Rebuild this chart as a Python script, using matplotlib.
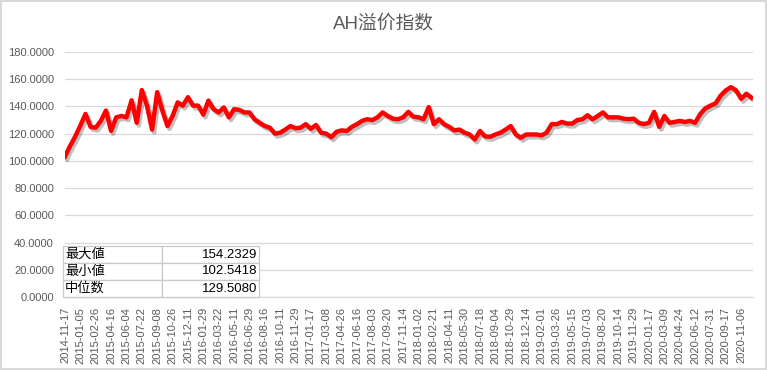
# ================================================================
# 0. Section: IMPORTS
# ================================================================
import numpy as np
from matplotlib import pyplot as plt
from matplotlib import patheffects as pe


# ================================================================
# 1. Section: INPUTS
# ================================================================
TITLE: str = "AH溢价指数"

# tick labels on the category axis (one every ~34 trading days)
DATE_LABELS: list = [
    "2014-11-17", "2015-01-05", "2015-02-26", "2015-04-16", "2015-06-04",
    "2015-07-22", "2015-09-08", "2015-10-26", "2015-12-11", "2016-01-29",
    "2016-03-22", "2016-05-11", "2016-06-29", "2016-08-16", "2016-10-11",
    "2016-11-29", "2017-01-17", "2017-03-08", "2017-04-26", "2017-06-16",
    "2017-08-03", "2017-09-20", "2017-11-14", "2018-01-02", "2018-02-21",
    "2018-04-11", "2018-05-30", "2018-07-18", "2018-09-04", "2018-10-29",
    "2018-12-14", "2019-02-01", "2019-03-26", "2019-05-15", "2019-07-03",
    "2019-08-20", "2019-10-14", "2019-11-29", "2020-01-17", "2020-03-09",
    "2020-04-24", "2020-06-12", "2020-07-31", "2020-09-17", "2020-11-06",
]

# index values, 3 readings per tick interval
SAMPLES_PER_LABEL: int = 3
AH_INDEX: list = [
    103.2, 111.0, 118.0, 126.0, 134.5, 125.0, 124.4, 129.4, 137.0, 122.0,
    132.0, 133.0, 132.0, 144.5, 128.0, 152.0, 140.6, 123.0, 150.5, 137.0,
    125.6, 133.0, 143.0, 140.6, 146.8, 140.6, 140.6, 134.0, 144.3, 138.0,
    135.6, 139.3, 132.0, 138.0, 137.5, 135.6, 135.6, 130.6, 128.0, 125.6,
    124.4, 120.0, 120.7, 123.0, 125.6, 124.0, 124.4, 127.0, 123.6, 126.4,
    120.7, 120.0, 117.4, 121.4, 122.4, 122.0, 125.0, 127.0, 129.4, 130.6,
    130.0, 132.0, 135.6, 133.0, 131.0, 130.6, 132.0, 136.0, 132.5, 132.0,
    130.6, 139.5, 127.0, 130.6, 127.0, 125.0, 122.4, 123.0, 120.7, 119.4,
    115.7, 122.0, 118.0, 117.7, 119.4, 120.7, 123.0, 125.6, 119.4, 117.0,
    119.4, 119.4, 119.4, 118.7, 120.7, 127.0, 127.0, 128.6, 127.4, 127.4,
    130.0, 130.6, 133.5, 130.6, 133.0, 135.6, 132.0, 132.0, 132.0, 131.0,
    130.6, 131.0, 128.0, 127.0, 128.0, 136.0, 125.0, 133.0, 128.0, 128.6,
    129.4, 128.6, 129.4, 128.0, 134.4, 138.6, 140.6, 142.3, 148.0, 151.8,
    154.2, 151.8, 145.6, 149.3, 146.5,
]

STAT_NAMES: list = ["最大値", "最小値", "中位数"]
STAT_VALUES: list = ["154.2329", "102.5418", "129.5080"]

Y_TICKS: list = [0, 20, 40, 60, 80, 100, 120, 140, 160, 180]

GRID_COLOR: str = "#d9d9d9"
TEXT_COLOR: str = "#595959"


# ================================================================
# 2. Section: MAIN
# ================================================================
if __name__ == '__main__':
    plt.rcParams['font.family'] = ['Liberation Sans', 'Noto Sans CJK SC', 'DejaVu Sans']

    fig = plt.figure(figsize=(7.67, 3.70), dpi=100)
    fig.patch.set_edgecolor(GRID_COLOR)
    fig.patch.set_linewidth(1.5)
    ax = fig.add_axes([65 / 767, 73 / 370, 688 / 767, 245 / 370])

    # ──────────────────────────────────────────────────────
    # 2.1 Subsection: Line
    # ──────────────────────────────────────────────────────
    values = np.array(AH_INDEX)
    x = np.arange(len(values)) / SAMPLES_PER_LABEL
    ax.plot(x, values, color="#ff0000", lw=3.2, solid_joinstyle="round", zorder=5,
            path_effects=[pe.SimpleLineShadow(offset=(1.5, -2), shadow_color="k", alpha=0.25),
                          pe.Normal()])

    # ──────────────────────────────────────────────────────
    # 2.2 Subsection: Axes
    # ──────────────────────────────────────────────────────
    ax.set_ylim(Y_TICKS[0], Y_TICKS[-1])
    ax.set_yticks(Y_TICKS)
    ax.set_yticklabels([f"{v:.4f}" for v in Y_TICKS])
    ax.set_xlim(0, x[-1] + 0.1)
    ax.set_xticks(np.arange(len(DATE_LABELS)))
    ax.set_xticklabels(DATE_LABELS, rotation=90)

    ax.grid(axis="y", color=GRID_COLOR, lw=0.9)
    ax.set_axisbelow(True)
    for side in ["top", "right", "left"]:
        ax.spines[side].set_visible(False)
    ax.spines["bottom"].set_color(GRID_COLOR)
    ax.spines["bottom"].set_linewidth(0.9)
    ax.tick_params(length=0, labelsize=8, labelcolor=TEXT_COLOR)
    ax.tick_params(axis="x", pad=7)
    ax.tick_params(axis="y", pad=8)

    fig.text(0.5, 1 - 24 / 370, TITLE, ha="center", va="center",
             fontsize=13.5, color=TEXT_COLOR)

    # ──────────────────────────────────────────────────────
    # 2.3 Subsection: Stats table
    # ──────────────────────────────────────────────────────
    tbl = ax.table(cellText=[[n, v] for n, v in zip(STAT_NAMES, STAT_VALUES)],
                   cellLoc="left", bbox=[-2 / 688, 0, 196 / 688, 51 / 245],
                   colWidths=[99, 97], zorder=3)
    tbl.auto_set_font_size(False)
    for (r, c), cell in tbl.get_celld().items():
        cell.set_edgecolor("#c8c8c8")
        cell.set_linewidth(0.9)
        cell.set_facecolor("white")
        cell.get_text().set_fontsize(9.5)
        cell.get_text().set_color("black")
        cell.PAD = 0.02
        if c == 1:
            cell._loc = "right"
            cell.get_text().set_ha("right")

    fig.savefig("out.png", dpi=100, edgecolor=fig.get_edgecolor())
